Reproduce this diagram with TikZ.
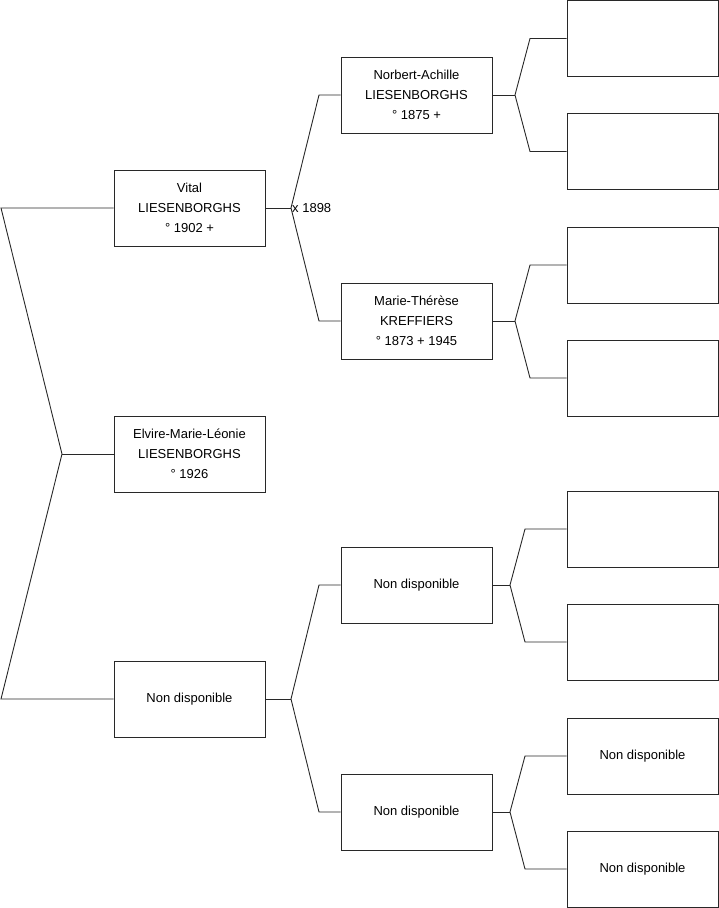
\documentclass[tikz,border=0pt]{standalone}
\usepackage{fontspec}
\setmainfont{Liberation Sans}
\usetikzlibrary{positioning}
\definecolor{edge}{RGB}{40,40,40}

\begin{document}
\begin{tikzpicture}[x=1pt, y=-1pt, every node/.style={font=\fontsize{13}{20}\selectfont},
  person/.style={draw=edge, line width=1pt, minimum width=151pt, minimum height=76pt, inner sep=0pt, align=center},
  link/.style={draw=edge, line width=0.9pt}]
\useasboundingbox (0,0) rectangle (719,908);
% ---- generation 1
\node[person] (vital) at (189.5,208) {Vital\\LIESENBORGHS\\° 1902 +};
\node[person] (elvire) at (189.5,454) {Elvire-Marie-Léonie\\LIESENBORGHS\\° 1926};
\node[person] (nd1) at (189.5,699) {Non disponible};
% ---- generation 2
\node[person] (norbert) at (416.5,95) {Norbert-Achille\\LIESENBORGHS\\° 1875 +};
\node[person] (marie) at (416.5,321) {Marie-Thérèse\\KREFFIERS\\° 1873 + 1945};
\node[person] (nd2) at (416.5,585) {Non disponible};
\node[person] (nd3) at (416.5,812) {Non disponible};
% ---- generation 3
\foreach \n/\y/\t in {g1/38.5/{}, g2/151.5/{}, g3/265/{}, g4/378/{}, g5/529/{}, g6/642/{},
  g7/756/Non disponible, g8/869/Non disponible}
  {\node[person] (\n) at (642.5,\y) {\t};}
% ---- left fork
\coordinate (top) at (1,208);
\coordinate (mid) at (62,454);
\coordinate (bot) at (1,699);
\draw[link] (vital.west) -- (top) -- (mid) -- (bot) -- (nd1.west);
\draw[link] (mid) -- (elvire.west);
% ---- forks to the parents
\foreach \src/\up/\dn/\jx/\ex in {vital/norbert/marie/291/319, nd1/nd2/nd3/291/319,
  norbert/g1/g2/515/530, marie/g3/g4/515/530, nd2/g5/g6/510/525, nd3/g7/g8/510/525}
  {\draw[link] (\src.east) -- (\jx,0 |- \src.east);
   \draw[link] (\up.west) -- (\ex,0 |- \up.west) -- (\jx,0 |- \src.east)
     -- (\ex,0 |- \dn.west) -- (\dn.west);}
\node[anchor=west, inner sep=1pt] (wed) at (291,208) {x 1898};
\end{tikzpicture}
\end{document}
